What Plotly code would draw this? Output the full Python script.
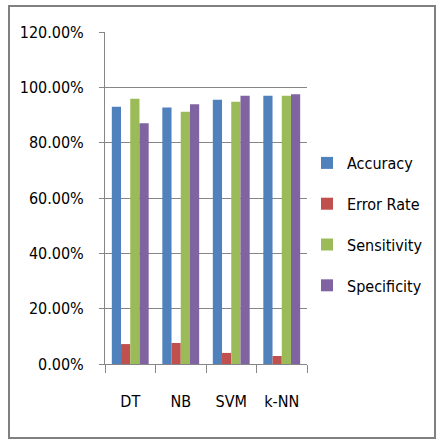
import plotly.graph_objects as go

categories = ["DT", "NB", "SVM", "k-NN"]
accuracy = [0.930, 0.927, 0.955, 0.970]
error_rate = [0.072, 0.076, 0.040, 0.029]
sensitivity = [0.959, 0.912, 0.948, 0.970]
specificity = [0.870, 0.939, 0.970, 0.975]

series = [
    ("Accuracy", accuracy, "#4F81BD"),
    ("Error Rate", error_rate, "#C0504D"),
    ("Sensitivity", sensitivity, "#9BBB59"),
    ("Specificity", specificity, "#8064A2"),
]

FONT = "DejaVu Sans Condensed, Liberation Sans Narrow, Liberation Sans, sans-serif"

fig = go.Figure()
for name, vals, color in series:
    fig.add_trace(go.Bar(x=categories, y=vals, name=name, marker_color=color,
                         marker_line_width=0, legendgroup=name))

W, H = 441, 447
L, R, T, B = 105, 134, 32, 83
pw, ph = W - L - R, H - T - B

def px(x):
    return (x - L) / pw

def py(y):
    return (H - B - y) / ph

fig.update_layout(
    width=W, height=H,
    margin=dict(l=L, r=R, t=T, b=B),
    paper_bgcolor="white", plot_bgcolor="white",
    barmode="group", bargap=0.27, bargroupgap=0,
    font=dict(family=FONT, size=16, color="#000000"),
    legend=dict(x=1.0, xanchor="left", y=py(146), yanchor="top",
                traceorder="grouped", tracegroupgap=17,
                font=dict(family=FONT, size=16, color="#000000"),
                bgcolor="rgba(0,0,0,0)"),
    xaxis=dict(showline=True, linecolor="#868686", linewidth=1,
               ticks="outside", tickson="boundaries", ticklen=8,
               tickcolor="#868686", showgrid=False,
               tickfont=dict(family=FONT, size=16), ticklabelstandoff=23),
    yaxis=dict(range=[0, 1.2], dtick=0.2, tickformat=".2%",
               showline=True, linecolor="#868686", linewidth=1,
               ticks="outside", ticklen=5, tickcolor="#868686",
               showgrid=True, gridcolor="#868686", gridwidth=1,
               zeroline=False, ticklabelstandoff=12,
               tickfont=dict(family=FONT, size=16)),
    shapes=[dict(type="rect", xref="paper", yref="paper",
                 x0=px(9), x1=px(435), y0=py(438), y1=py(6),
                 line=dict(color="#808080", width=2), layer="below")],
)

fig.write_html("out.html")
